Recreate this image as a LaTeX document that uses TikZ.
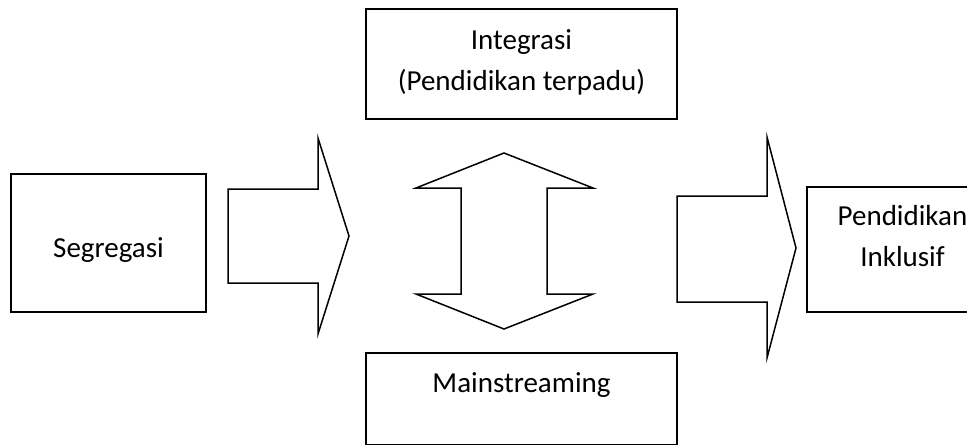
\documentclass[tikz,border=0pt]{standalone}
\usepackage{fontspec}
\setmainfont{Carlito}
\begin{document}
\begin{tikzpicture}[x=1pt,y=-1pt,
  boxline/.style={draw=black,line width=1.8pt},
  blockarrow/.style={draw=black,line width=1.5pt,line join=miter,fill=white},
  label/.style={anchor=base,inner sep=0pt,font=\fontsize{29}{35}\selectfont}]
\useasboundingbox (0,0) rectangle (967,445);
\clip (0,0) rectangle (967,445);
% boxes
\draw[boxline] (11,174) rectangle (206,312);
\coordinate (segc) at (108.5,243);
\draw[boxline] (366,9) rectangle (677,119);
\draw[boxline] (366,353) rectangle (677,444.5);
\draw[boxline] (807,187) rectangle (1000,312);
% texts
\node[label] (seg) at (108.5,257) {Segregasi};
\node[label] (int1) at (521.5,49) {Integrasi};
\node[label] (int2) at (521.5,90) {(Pendidikan terpadu)};
\node[label] (main) at (521.5,392) {Mainstreaming};
\node[label] (inc1) at (902.5,225) {Pendidikan};
\node[label] (inc2) at (902.5,266) {Inklusif};
% left block arrow
\draw[blockarrow] (228,189) -- (318,189) -- (318,138) -- (349,236) -- (318,334)
  -- (318,283) -- (228,283) -- cycle;
% vertical double block arrow
\draw[blockarrow] (504,153) -- (593,188) -- (547,188) -- (547,294) -- (593,294)
  -- (504,329) -- (416,294) -- (461,294) -- (461,188) -- (416,188) -- cycle;
% right block arrow
\draw[blockarrow] (677,196) -- (767,196) -- (767,137) -- (796,248) -- (767,358)
  -- (767,302) -- (677,302) -- cycle;
\end{tikzpicture}
\end{document}
